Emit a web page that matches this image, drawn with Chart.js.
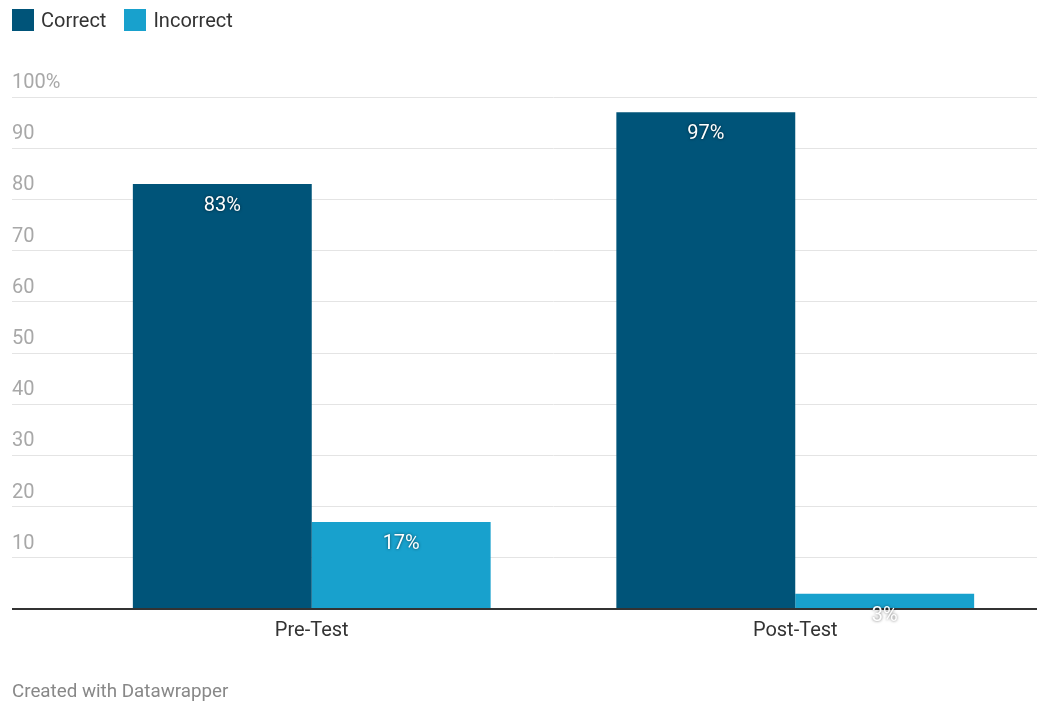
<!DOCTYPE html>
<html>
<head>
<meta charset="utf-8">
<script src="https://cdn.jsdelivr.net/npm/chart.js@4.4.1/dist/chart.umd.min.js"></script>
<style>
  html, body { margin: 0; padding: 0; background: #fff; }
  #wrap { position: relative; width: 1050px; height: 721px; font-family: Roboto, sans-serif; }
  #chart { position: absolute; left: 0; top: 0; }
  #legend { position: absolute; left: 12px; top: 9px; display: flex; }
  .item { display: flex; align-items: center; margin-right: 18px; color: #333; font-size: 20px; line-height: 22px; }
  .swatch { width: 22px; height: 22px; margin-right: 7px; }
  #footer { position: absolute; left: 12px; top: 680px; color: #888; font-size: 18.8px; }
</style>
</head>
<body>
<div id="wrap">
  <canvas id="chart" width="1050" height="721"></canvas>
  <div id="legend"></div>
  <div id="footer">Created with Datawrapper</div>
</div>
<script>
const categories = ['Pre-Test', 'Post-Test'];
const seriesNames = ['Correct', 'Incorrect'];
const correctValues = [83, 97];
const incorrectValues = [17, 3];
const yTicks = [0, 10, 20, 30, 40, 50, 60, 70, 80, 90, 100];

const COLORS = ['#005479', '#18a1cd'];

// legend as plain html
const legendEl = document.getElementById('legend');
seriesNames.forEach((name, i) => {
    const item = document.createElement('div');
    item.className = 'item';
    item.innerHTML = `<span class="swatch" style="background:${COLORS[i]}"></span>${name}`;
    legendEl.appendChild(item);
});

// y labels sit above their grid line, at the far left
const yLabelPlugin = {
    id: 'yLabels',
    afterDraw(chart) {
        const ctx = chart.ctx;
        const y = chart.scales.y;
        ctx.save();
        ctx.font = '20px Roboto, sans-serif';
        ctx.fillStyle = '#a8a8a8';
        ctx.textAlign = 'left';
        ctx.textBaseline = 'alphabetic';
        yTicks.forEach(v => {
            if (v === 0) return;
            const label = v === 100 ? '100%' : String(v);
            ctx.fillText(label, 12, y.getPixelForValue(v) - 9);
        });
        ctx.restore();
    }
};

// value labels just under the top of each bar
const valueLabelPlugin = {
    id: 'valueLabels',
    afterDatasetsDraw(chart) {
        const ctx = chart.ctx;
        ctx.save();
        ctx.font = '20px Roboto, sans-serif';
        ctx.fillStyle = '#fff';
        ctx.textAlign = 'center';
        ctx.textBaseline = 'middle';
        ctx.shadowColor = 'rgba(0,0,0,0.6)';
        ctx.shadowBlur = 3;
        chart.data.datasets.forEach((ds, di) => {
            chart.getDatasetMeta(di).data.forEach((bar, i) => {
                ctx.fillText(ds.data[i] + '%', bar.x, bar.y + 22);
            });
        });
        ctx.restore();
    }
};

new Chart(document.getElementById('chart'), {
    type: 'bar',
    data: {
        labels: categories,
        datasets: [
            { label: seriesNames[0], data: correctValues, backgroundColor: COLORS[0] },
            { label: seriesNames[1], data: incorrectValues, backgroundColor: COLORS[1] }
        ]
    },
    options: {
        responsive: false,
        animation: false,
        categoryPercentage: 0.74,
        barPercentage: 1,
        layout: { padding: { top: 97, left: 12, right: 13, bottom: 68 } },
        plugins: {
            legend: { display: false },
            tooltip: { enabled: false }
        },
        scales: {
            x: {
                grid: { display: false, drawTicks: false },
                border: { display: false },
                ticks: {
                    color: '#333',
                    padding: 10,
                    font: { size: 20, family: 'Roboto, sans-serif' }
                }
            },
            y: {
                min: 0,
                max: 100,
                afterBuildTicks(scale) {
                    scale.ticks = yTicks.map(v => ({ value: v }));
                },
                afterFit(scale) {
                    scale.width = 58;
                },
                border: { display: false },
                ticks: { display: false },
                grid: {
                    drawTicks: true,
                    tickLength: 58,
                    color: c => c.tick && c.tick.value === 0 ? '#333' : '#e4e4e4',
                    lineWidth: c => c.tick && c.tick.value === 0 ? 2 : 1
                }
            }
        }
    },
    plugins: [yLabelPlugin, valueLabelPlugin]
});
</script>
</body>
</html>
